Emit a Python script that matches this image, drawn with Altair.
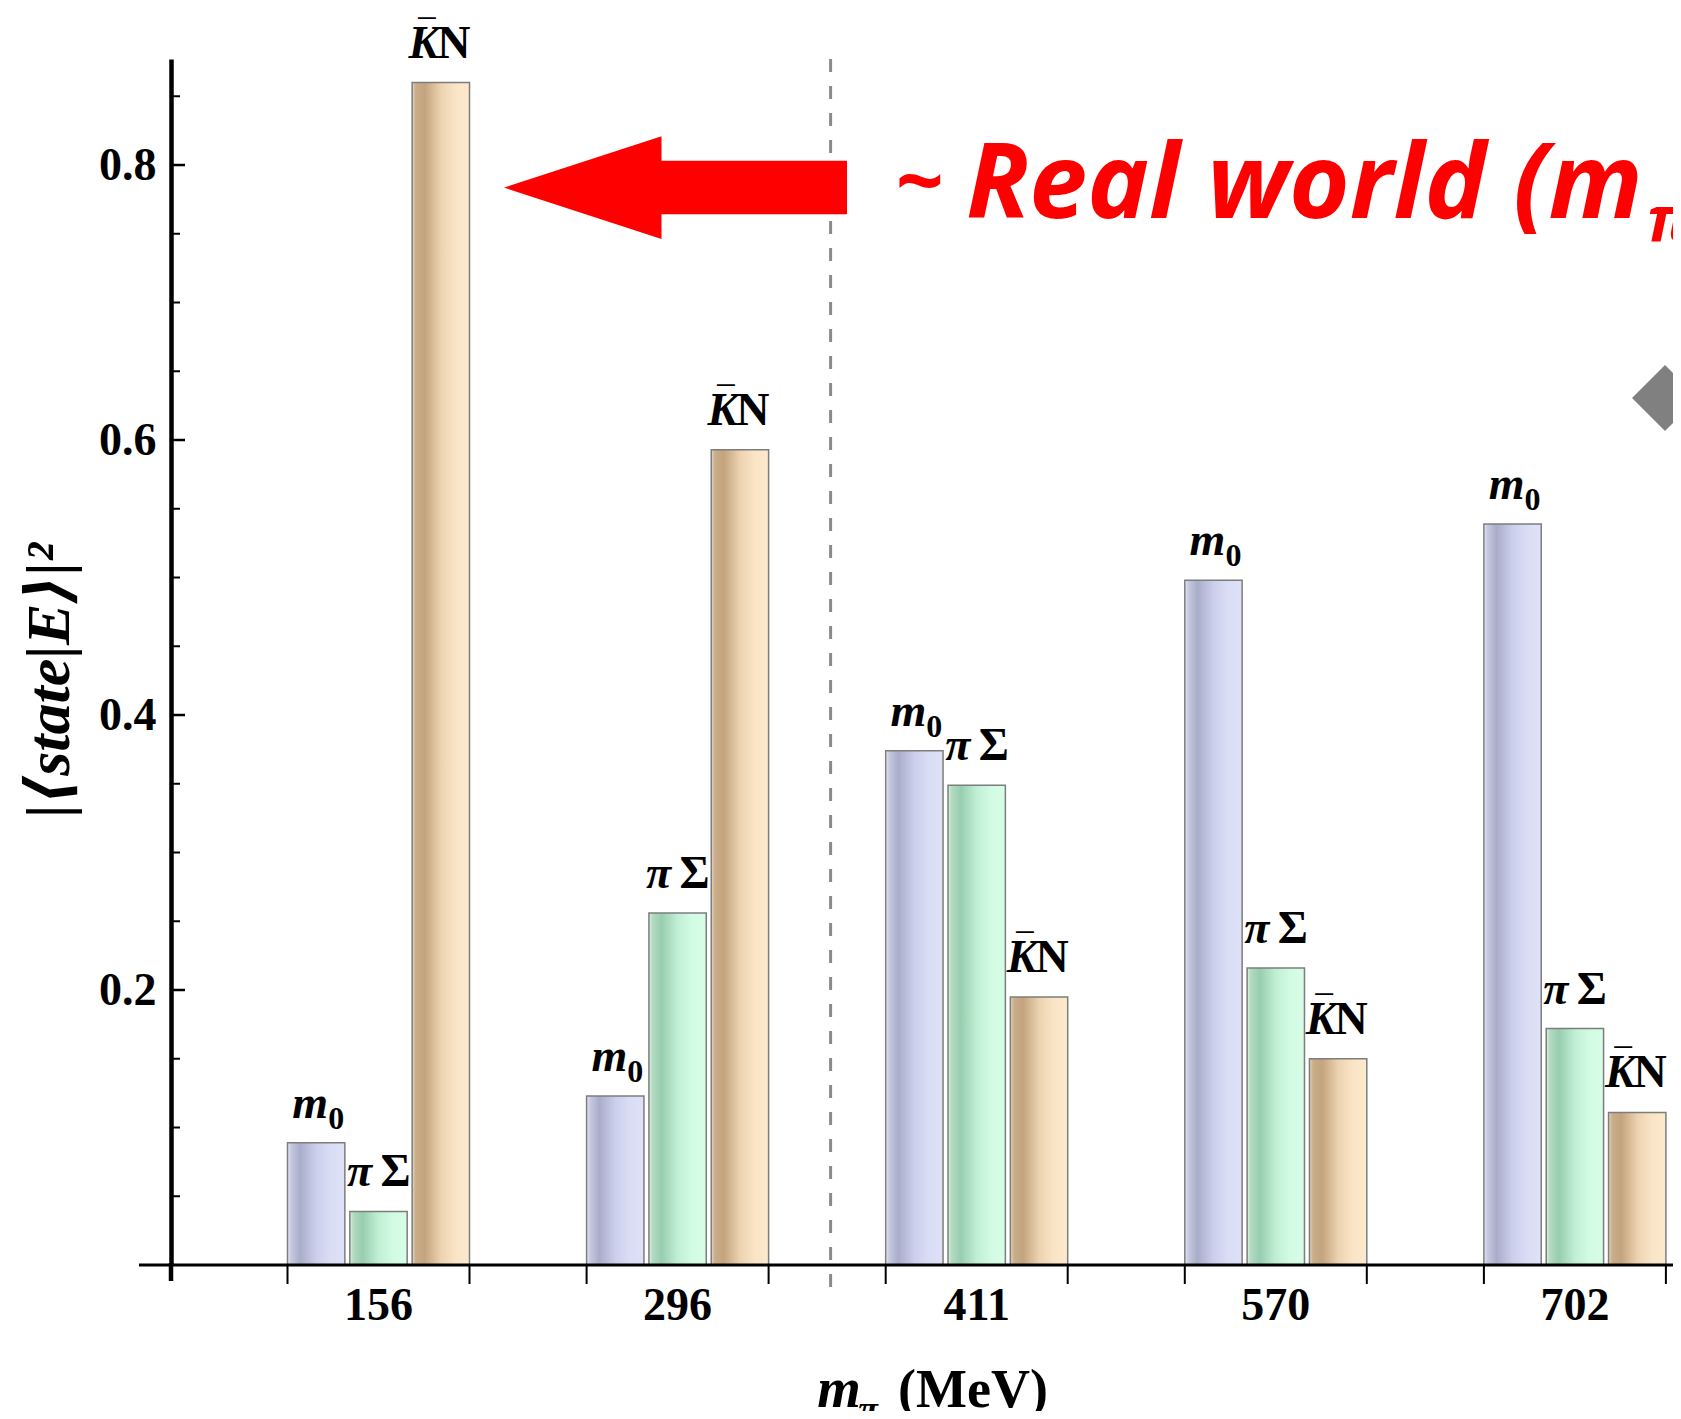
import altair as alt
import pandas as pd

# ---------------- data ----------------
groups = ["156", "296", "411", "570", "702"]
series = ["m0", "piSigma", "KbarN"]
m0_vals = [0.089, 0.123, 0.374, 0.498, 0.539]
pisigma_vals = [0.039, 0.256, 0.349, 0.216, 0.172]
kbarn_vals = [0.860, 0.593, 0.195, 0.150, 0.111]
y_major = [0.2, 0.4, 0.6, 0.8]
y_minor = [0.05, 0.10, 0.15, 0.25, 0.30, 0.35, 0.45, 0.50, 0.55, 0.65, 0.70, 0.75, 0.85]
separator_after = ["296"]
y_title = "|⟨state|E⟩|²"
x_title_m = ["m"]
x_title_sub = ["π"]
x_title_unit = ["(MeV)"]
note_tilde = ["~"]
note_text = ["Real world (m"]
note_sub = ["π"]

rows = []
for i, g in enumerate(groups):
    for s, vals in zip(series, [m0_vals, pisigma_vals, kbarn_vals]):
        rows.append({"group": g, "series": s, "value": vals[i]})
bars = pd.DataFrame(rows)

# ---------------- layout / style ----------------
W, H = 1502, 1206
SERIF = "Liberation Serif, DejaVu Serif, serif"

xscale = alt.Scale(domain=groups, range=[0, 1611.4], paddingInner=0.3915, paddingOuter=0.3895)
oscale = alt.Scale(domain=series, paddingInner=0.08, paddingOuter=0)
yscale = alt.Scale(domain=[0, 0.8771], nice=False, zero=True)

xaxis = alt.Axis(domain=False, ticks=False, grid=False, labelAngle=0, labelFont=SERIF,
                 labelFontWeight="bold", labelFontSize=46, labelColor="black",
                 labelPadding=40, labelBaseline="middle", title=None)
yaxis = alt.Axis(domain=True, domainColor="black", domainWidth=4.5, ticks=False, grid=False,
                 values=y_major, format=".1f", labelFont=SERIF, labelFontWeight="bold",
                 labelFontSize=46, labelColor="black", labelPadding=15,
                 title=y_title, titleFont=SERIF, titleFontSize=62, titleFontStyle="italic",
                 titleFontWeight="bold", titleColor="black", titleX=-122, titleY=621,
                 titleAngle=270, titleAlign="center", titleBaseline="middle")

x_enc = alt.X("group:N", scale=xscale, axis=xaxis)
o_enc = alt.XOffset("series:N", scale=oscale)
y_enc = alt.Y("value:Q", scale=yscale, axis=yaxis)


def grad(stops):
    return alt.LinearGradient(gradient="linear", x1=0, x2=1, y1=0, y2=0,
                              stops=[alt.GradientStop(offset=o, color=c) for o, c in stops])


fills = {
    "m0": grad([(0, "#e8eaf6"), (0.06, "#c6c9df"), (0.22, "#a9adca"), (0.5, "#cbcfeb"),
                (0.75, "#d9ddf5"), (1, "#dfe2f7")]),
    "piSigma": grad([(0, "#dcf3e4"), (0.06, "#b3dbc2"), (0.22, "#98cdb0"), (0.5, "#c0efd4"),
                     (0.75, "#d2fbe3"), (1, "#d8fde7")]),
    "KbarN": grad([(0, "#e9dac4"), (0.06, "#c9ae8a"), (0.22, "#c3a47e"), (0.5, "#ecd2b0"),
                   (0.75, "#fae4c6"), (1, "#fde9cd")]),
}

label_parts = {
    "m0": [("m", "italic", 46, -6, -25), ("0", "normal", 32, 20, -14)],
    "piSigma": [("π", "italic", 46, -19, -25), ("Σ", "normal", 46, 17, -25)],
    "KbarN": [("K", "italic", 46, -17, -25), ("N", "normal", 46, 13, -25),
              ("‾", "normal", 46, -14, -29)],
}

layers = []
base = alt.Chart(bars)
for s in series:
    layers.append(
        base.transform_filter(alt.datum.series == s)
        .mark_bar(fill=fills[s], stroke="#7d7d7d", strokeWidth=1.5)
        .encode(x=x_enc, xOffset=o_enc, y=y_enc)
    )
for s in series:
    for txt, style, size, dx, dy in label_parts[s]:
        layers.append(
            base.transform_filter(alt.datum.series == s)
            .mark_text(text=txt, font=SERIF, fontSize=size, fontStyle=style, fontWeight="bold",
                       color="black", align="center", baseline="alphabetic", dx=dx, dy=dy)
            .encode(x=x_enc, xOffset=o_enc, y=y_enc)
        )

one = pd.DataFrame({"k": [0]})
# x axis line (extends left past the y axis)
layers.append(alt.Chart(one).mark_rule(color="black", strokeWidth=3)
              .encode(x=alt.value(-32), x2=alt.value(W), y=alt.value(H)))
# y axis line extension below the x axis
layers.append(alt.Chart(one).mark_rule(color="black", strokeWidth=4.5)
              .encode(x=alt.value(0), y=alt.value(H - 2), y2=alt.value(H + 16)))
# inward y ticks
layers.append(alt.Chart(pd.DataFrame({"value": y_major})).mark_rule(color="black", strokeWidth=2.5)
              .encode(y=y_enc, x=alt.value(0), x2=alt.value(14)))
layers.append(alt.Chart(pd.DataFrame({"value": y_minor})).mark_rule(color="black", strokeWidth=2)
              .encode(y=y_enc, x=alt.value(0), x2=alt.value(9)))
# x ticks at both edges of each group
gdf = pd.DataFrame({"group": groups})
for bp in (0, 1):
    layers.append(alt.Chart(gdf).mark_rule(color="black", strokeWidth=2)
                  .encode(x=alt.X("group:N", scale=xscale, axis=xaxis, bandPosition=bp),
                          y=alt.value(H), y2=alt.value(H + 19)))
# dashed separator between 296 and 411 (midway in the gap after the 296 group)
layers.append(alt.Chart(pd.DataFrame({"group": separator_after}))
              .mark_rule(color="#8a8a8a", strokeWidth=3, strokeDash=[13, 14], xOffset=62)
              .encode(x=alt.X("group:N", scale=xscale, axis=xaxis, bandPosition=1),
                      y=alt.value(0), y2=alt.value(H + 29)))
# red arrow
ARROW = ("M -1 0 L -0.0816 -0.3 L -0.0816 -0.156 L 1 -0.156 L 1 0.156 "
         "L -0.0816 0.156 L -0.0816 0.3 Z")
layers.append(alt.Chart(one).mark_point(shape=ARROW, filled=True, color="#ff0000", opacity=1,
                                        size=343 * 343, strokeWidth=0)
              .encode(x=alt.value(504.5), y=alt.value(128.6)))
# red note
layers.append(alt.Chart(pd.DataFrame({"t": note_tilde}))
              .mark_text(font="Open Sans", fontSize=84, fontStyle="italic", fontWeight="bold",
                         color="#ff0000", align="left", baseline="alphabetic")
              .encode(text="t:N", x=alt.value(724), y=alt.value(152)))
layers.append(alt.Chart(pd.DataFrame({"t": note_text}))
              .mark_text(font="Open Sans", fontSize=104, fontStyle="italic", fontWeight="bold",
                         color="#ff0000", align="left", baseline="alphabetic")
              .encode(text="t:N", x=alt.value(795), y=alt.value(159)))
layers.append(alt.Chart(pd.DataFrame({"t": note_sub}))
              .mark_text(font="Open Sans", fontSize=62, fontStyle="italic", fontWeight="bold",
                         color="#ff0000", align="left", baseline="alphabetic")
              .encode(text="t:N", x=alt.value(1476), y=alt.value(182)))
# grey diamond
layers.append(alt.Chart(one).mark_point(shape="diamond", filled=True, color="#808080",
                                        opacity=1, size=4356, strokeWidth=0)
              .encode(x=alt.value(1494), y=alt.value(339)))
# x title
layers.append(alt.Chart(pd.DataFrame({"t": x_title_m}))
              .mark_text(font=SERIF, fontSize=56, fontStyle="italic", fontWeight="bold",
                         color="black", align="center", baseline="alphabetic")
              .encode(text="t:N", x=alt.value(668), y=alt.value(1348)))
layers.append(alt.Chart(pd.DataFrame({"t": x_title_sub}))
              .mark_text(font=SERIF, fontSize=36, fontStyle="italic", fontWeight="bold",
                         color="black", align="center", baseline="alphabetic")
              .encode(text="t:N", x=alt.value(697), y=alt.value(1362)))
layers.append(alt.Chart(pd.DataFrame({"t": x_title_unit}))
              .mark_text(font=SERIF, fontSize=54, fontWeight="bold",
                         color="black", align="left", baseline="alphabetic")
              .encode(text="t:N", x=alt.value(727), y=alt.value(1348)))

chart = (
    alt.layer(*layers)
    .properties(width=W, height=H, background="white",
                padding={"left": 163, "top": 51, "right": 0, "bottom": 146},
                autosize=alt.AutoSizeParams(type="none"))
    .configure_view(stroke=None)
)

chart.save("out.html", embed_options={"renderer": "svg", "actions": False})
